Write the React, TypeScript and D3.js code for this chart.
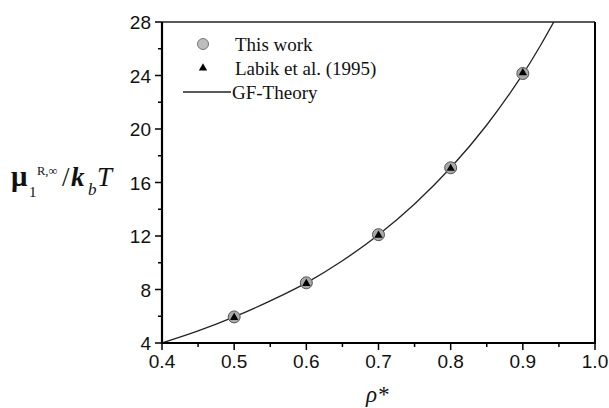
import React from "react";
import * as d3 from "d3";

// Reduced density of the simulated state points
const densities = [0.5, 0.6, 0.7, 0.8, 0.9];
// Residual chemical potential at infinite dilution (this work)
const thisWork = [5.95, 8.5, 12.1, 17.1, 24.15];
// Literature values (Labik et al. 1995)
const labik = [5.9, 8.45, 12.05, 17.05, 24.2];
// GF-Theory curve
const theoryRho = [0.4, 0.45, 0.5, 0.55, 0.6, 0.65, 0.7, 0.75, 0.8, 0.85, 0.9, 0.925, 0.95];
const theoryMu = [4.0, 4.9, 5.95, 7.15, 8.5, 10.15, 12.1, 14.4, 17.1, 20.3, 24.1, 26.3, 28.7];

const xTicks = [0.4, 0.5, 0.6, 0.7, 0.8, 0.9, 1.0];
const yTicks = [4, 8, 12, 16, 20, 24, 28];

const W = 609;
const H = 408;
const plot = { left: 162, right: 595, top: 22, bottom: 343 };

export default function App() {
  const x = d3.scaleLinear().domain([0.4, 1.0]).range([plot.left, plot.right]);
  const y = d3.scaleLinear().domain([4, 28]).range([plot.bottom, plot.top]);

  const line = d3
    .line<number>()
    .x((_, i) => x(theoryRho[i]))
    .y((d) => y(d))
    .curve(d3.curveCatmullRom);

  const tri = d3.symbol(d3.symbolTriangle, 30)()!;
  const triLegend = d3.symbol(d3.symbolTriangle, 30)()!;

  const xMinor = d3.range(0.45, 1.0, 0.1);
  const yMinor = d3.range(6, 28, 4);

  const sans = "'Liberation Sans', Arial, sans-serif";
  const serif = "'Liberation Serif', 'Times New Roman', serif";

  return (
    <svg width={W} height={H} style={{ position: "absolute", left: 0, top: 0, background: "#fff" }}>
      <defs>
        <clipPath id="plotClip">
          <rect x={plot.left} y={plot.top} width={plot.right - plot.left} height={plot.bottom - plot.top} />
        </clipPath>
      </defs>

      {/* theory curve */}
      <path d={line(theoryMu) || ""} fill="none" stroke="#222" strokeWidth={1.3} clipPath="url(#plotClip)" />

      {/* this work: grey circles */}
      {densities.map((r, i) => (
        <circle key={"c" + i} cx={x(r)} cy={y(thisWork[i])} r={6} fill="#a8a8a8" stroke="#555" strokeWidth={1} />
      ))}
      {/* Labik et al.: black triangles */}
      {densities.map((r, i) => (
        <path key={"t" + i} d={tri} transform={`translate(${x(r)},${y(labik[i])})`} fill="#000" />
      ))}

      {/* frame */}
      <line x1={plot.left} x2={plot.right} y1={plot.top} y2={plot.top} stroke="#222" strokeWidth={1.3} />
      <line x1={plot.right} x2={plot.right} y1={plot.top} y2={plot.bottom} stroke="#000" strokeWidth={2} />
      <line x1={plot.left} x2={plot.left} y1={plot.top} y2={plot.bottom + 1} stroke="#000" strokeWidth={2.2} />
      <line x1={plot.left - 1} x2={plot.right + 1} y1={plot.bottom} y2={plot.bottom} stroke="#000" strokeWidth={2.2} />

      {/* x ticks */}
      {xTicks.map((t) => (
        <g key={"xt" + t}>
          <line x1={x(t)} x2={x(t)} y1={plot.bottom} y2={plot.bottom + 7} stroke="#000" strokeWidth={1.5} />
          <text x={x(t)} y={368} textAnchor="middle" fontFamily={sans} fontSize={19} fill="#111">
            {t.toFixed(1)}
          </text>
        </g>
      ))}
      {xMinor.map((t) => (
        <line key={"xm" + t} x1={x(t)} x2={x(t)} y1={plot.bottom} y2={plot.bottom + 4} stroke="#000" strokeWidth={1.5} />
      ))}

      {/* y ticks */}
      {yTicks.map((t) => (
        <g key={"yt" + t}>
          <line x1={plot.left - 7} x2={plot.left} y1={y(t)} y2={y(t)} stroke="#000" strokeWidth={1.5} />
          <text x={151} y={y(t) + 7} textAnchor="end" fontFamily={sans} fontSize={19} fill="#111">
            {t}
          </text>
        </g>
      ))}
      {yMinor.map((t) => (
        <line key={"ym" + t} x1={plot.left - 4} x2={plot.left} y1={y(t)} y2={y(t)} stroke="#000" strokeWidth={1.5} />
      ))}

      {/* legend */}
      <circle cx={203} cy={44} r={5.5} fill="#bdbdbd" stroke="#777" strokeWidth={1} />
      <text x={235} y={51} fontFamily={serif} fontSize={19} fill="#111">This work</text>
      <path d={triLegend} transform="translate(203,68)" fill="#000" />
      <text x={235} y={75} fontFamily={serif} fontSize={19} fill="#111">Labik et al. (1995)</text>
      <line x1={183} x2={231} y1={92} y2={92} stroke="#222" strokeWidth={1.3} />
      <text x={232} y={99} fontFamily={serif} fontSize={19} fill="#111">GF-Theory</text>

      {/* y axis title */}
      <g fontFamily={serif} fill="#111">
        <text x={11} y={186} fontSize={29} fontWeight="bold">μ</text>
        <text x={29} y={197} fontSize={15}>1</text>
        <text x={37} y={175} fontSize={12.5}>R,∞</text>
        <text x={62} y={186} fontSize={27}>/</text>
        <text x={71} y={186} fontSize={27} fontStyle="italic" fontWeight="bold">k</text>
        <text x={88} y={195} fontSize={17} fontStyle="italic">b</text>
        <text x={97} y={186} fontSize={27} fontStyle="italic">T</text>
      </g>

      {/* x axis title */}
      <text x={366} y={402} fontFamily={serif} fontSize={23} fontStyle="italic" fill="#111">
        ρ*
      </text>
    </svg>
  );
}
